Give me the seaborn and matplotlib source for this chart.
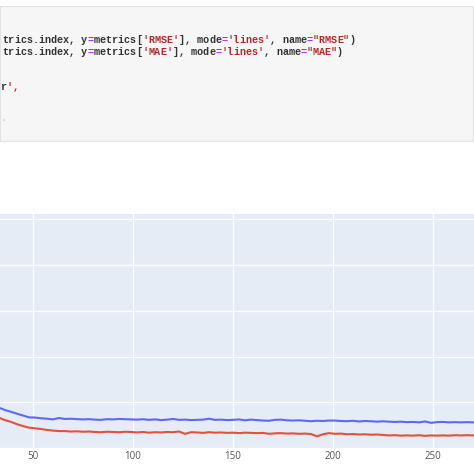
import pandas as pd
import seaborn as sns
import matplotlib.pyplot as plt
from matplotlib.patches import Rectangle

# Values (epoch step of 3, starting at epoch 30)
rmse = [0.95, 0.88, 0.83, 0.79, 0.75, 0.71, 0.67, 0.665, 0.65, 0.64,
        0.625, 0.655, 0.635, 0.64, 0.63, 0.625, 0.63, 0.62, 0.615, 0.63,
        0.625, 0.635, 0.63, 0.625, 0.62, 0.63, 0.615, 0.625, 0.61, 0.62,
        0.635, 0.615, 0.62, 0.61, 0.615, 0.62, 0.64, 0.615, 0.62, 0.61,
        0.615, 0.625, 0.605, 0.62, 0.61, 0.60, 0.595, 0.615, 0.62, 0.605,
        0.60, 0.605, 0.595, 0.585, 0.595, 0.59, 0.60, 0.60, 0.59, 0.585,
        0.595, 0.58, 0.59, 0.585, 0.575, 0.585, 0.575, 0.57, 0.575, 0.565,
        0.57, 0.56, 0.58, 0.55, 0.565, 0.57, 0.56, 0.565, 0.56, 0.565,
        0.56, 0.565]
mae = [0.72, 0.66, 0.61, 0.57, 0.52, 0.48, 0.445, 0.43, 0.415, 0.395,
       0.38, 0.37, 0.37, 0.36, 0.365, 0.355, 0.36, 0.35, 0.345, 0.355,
       0.35, 0.345, 0.355, 0.35, 0.34, 0.35, 0.335, 0.345, 0.34, 0.35,
       0.345, 0.36, 0.31, 0.345, 0.34, 0.33, 0.345, 0.335, 0.34, 0.33,
       0.335, 0.325, 0.335, 0.33, 0.325, 0.33, 0.31, 0.32, 0.325, 0.315,
       0.32, 0.31, 0.315, 0.305, 0.255, 0.30, 0.325, 0.31, 0.315, 0.30,
       0.305, 0.295, 0.30, 0.29, 0.295, 0.285, 0.275, 0.28, 0.27, 0.275,
       0.27, 0.28, 0.265, 0.275, 0.27, 0.275, 0.27, 0.28, 0.275, 0.28,
       0.275, 0.28]
epochs = list(range(30, 30 + 3 * len(rmse), 3))
x_ticks = [50, 100, 150, 200, 250]
y_grid = [0, 1, 2, 3, 4, 5]

# visible part of the notebook cell (left side is cropped in the screenshot)
code_lines = [
    'trics.index, y=metrics[\'RMSE\'], mode=\'lines\', name="RMSE")',
    'trics.index, y=metrics[\'MAE\'], mode=\'lines\', name="MAE")',
    '',
    '',
    "r',",
]

metrics = pd.DataFrame({'epoch': epochs * 2,
                        'value': rmse + mae,
                        'metric': ['RMSE'] * len(rmse) + ['MAE'] * len(mae)})

W = H = 474
fig = plt.figure(figsize=(W / 100, H / 100), dpi=100)

# code cell
fig.patches.append(Rectangle((0, 1 - 141 / H), 473 / W, 135 / H,
                             transform=fig.transFigure, facecolor='#f6f6f6',
                             edgecolor='#e3e3e3', lw=0.8))

fs_px = 10.15
cw = 0.6 * fs_px
for i, line in enumerate(code_lines):
    y = 1 - (40 + i * 11.75) / H
    x0 = 2.0 if i < 2 else 0.5
    in_str = None
    for j, ch in enumerate(line):
        if in_str is None and ch in "'\"":
            in_str = ch
            col = '#b02a2a'
        elif in_str is not None:
            col = '#b02a2a'
            if ch == in_str:
                in_str = None
        elif ch == '=':
            col = '#aa22ff'
        else:
            col = '#333333'
        fig.text((x0 + j * cw) / W, y, ch, color=col, fontsize=fs_px * 0.72,
                 family='Liberation Mono', weight='bold',
                 ha='left', va='center')
fig.text(0.5 / W, 1 - 118 / H, '.', color='#c8c8c8', fontsize=fs_px * 0.72,
         family='Liberation Mono', ha='left', va='center')

# plot area
ax = fig.add_axes([0, 26 / H, 1, 234 / H])
ax.set_facecolor('#E5ECF6')
sns.lineplot(data=metrics, x='epoch', y='value', hue='metric',
             palette={'RMSE': '#5f68f0', 'MAE': '#e5503b'},
             lw=1.5, legend=False, ax=ax)
ax.set_xlim(33.5, 270.5)
ax.set_ylim(0, 234 / 45.75)
ax.set_xticks(x_ticks)
ax.set_yticks(y_grid)
ax.set_yticklabels([])
ax.grid(True, color='white', lw=0.9)
ax.set_axisbelow(True)
for s in ax.spines.values():
    s.set_visible(False)
ax.tick_params(length=0, pad=2.5, labelsize=7, labelcolor='#555555')
for lab in ax.get_xticklabels():
    lab.set_family('Open Sans')
ax.set_xlabel('')
ax.set_ylabel('')

fig.savefig('out.png', dpi=100)
